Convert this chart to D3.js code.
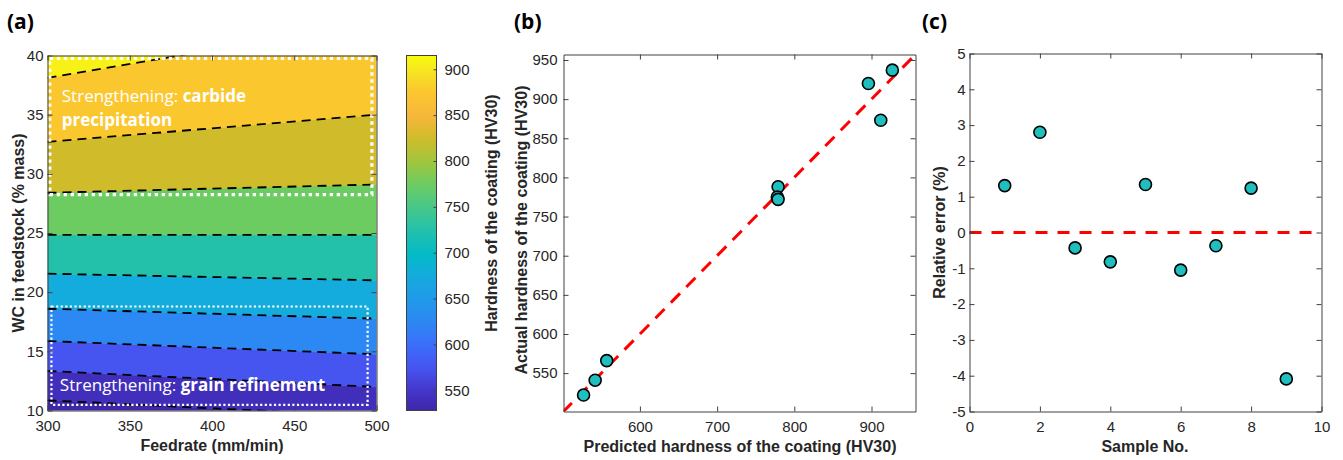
<!DOCTYPE html>
<html>
<head>
<meta charset="utf-8">
<script src="https://cdn.jsdelivr.net/npm/d3@7"></script>
<style>
body { margin: 0; background: #fff; }
svg { display: block; }
.tick text { font-family: "Liberation Sans", Arial, sans-serif; font-size: 15px; fill: #262626; }
.tick line, .domain { stroke: #404040; }
.label { font-family: "Liberation Sans", Arial, sans-serif; font-size: 16px; font-weight: bold; fill: #262626; }
.panel { font-family: "Open Sans", sans-serif; font-size: 21px; font-weight: bold; fill: #000; }
.note { font-family: "Open Sans", sans-serif; font-size: 17px; fill: #fff; }
</style>
</head>
<body>
<div id="chart"></div>
<script>
var width = 1343
var height = 460

// Panel (a): contour of hardness over feedrate / WC content
var feedTicks = [300, 350, 400, 450, 500]
var wcTicks = [10, 15, 20, 25, 30, 35, 40]
var cbarTicks = [550, 600, 650, 700, 750, 800, 850, 900]
var hardRange = [528, 915]
// contour lines: level and WC (% mass) where it crosses feedrate 300 and 500
var contourLevels = [530, 550, 600, 650, 700, 750, 800, 850, 900]
var wcAt300 = [10.86, 13.34, 15.87, 18.6, 21.56, 24.85, 28.4, 32.7, 38.1]
var wcAt500 = [9.51, 11.99, 14.75, 17.76, 21.0, 24.85, 29.1, 35.0, 42.85]

// parula colormap
var parulaT = [0, 0.06, 0.12, 0.19, 0.25, 0.32, 0.38, 0.44, 0.51, 0.57, 0.64, 0.70, 0.77, 0.83, 0.90, 0.95, 1]
var parulaC = ["#3e26a8", "#4438cd", "#4654f0", "#3a70fa", "#2c88f2", "#209be8", "#14acdc", "#04bbc6",
               "#24c1aa", "#46c78a", "#6ecc60", "#a0c63e", "#d2bc2a", "#f8b63c", "#fbc82e", "#f6e224", "#f9fb0e"]

// Panel (b): predicted vs actual hardness
var predicted = [527, 542, 557, 779, 778, 779, 896, 927, 912]
var actual = [522, 541, 566, 788, 775, 772, 920, 937, 873]
var bTicksX = [600, 700, 800, 900]
var bTicksY = [550, 600, 650, 700, 750, 800, 850, 900, 950]

// Panel (c): relative error by sample
var sampleNo = [1, 2, 3, 4, 5, 6, 7, 8, 9]
var relError = [1.31, 2.80, -0.43, -0.82, 1.34, -1.05, -0.37, 1.24, -4.09]
var cTicksX = [0, 2, 4, 6, 8, 10]
var cTicksY = [-5, -4, -3, -2, -1, 0, 1, 2, 3, 4, 5]

var svg = d3.select("#chart")
    .append("svg")
    .attr("width", width)
    .attr("height", height)
    .style("background-color", "white")

var parula = d3.scaleLinear().domain(parulaT).range(parulaC).interpolate(d3.interpolateRgb)
var hardToT = d3.scaleLinear().domain(hardRange).range([0, 1]).clamp(true)
function hardColor(v) { return parula(hardToT(v)) }

var fmt = function(d) { return String(d) }

// box with inward ticks on all four sides (matlab style)
function box(g, x, y, xt, yt, padX, padY) {
    var yb = y.range()[0], yt0 = y.range()[1]
    var xl = x.range()[0], xr = x.range()[1]
    g.append("g").attr("transform", "translate(0," + yb + ")")
        .call(d3.axisBottom(x).tickValues(xt).tickSizeInner(-5).tickSizeOuter(0).tickPadding(padX).tickFormat(fmt))
    g.append("g").attr("transform", "translate(0," + yt0 + ")")
        .call(d3.axisTop(x).tickValues(xt).tickSizeInner(-5).tickSizeOuter(0).tickFormat(""))
    g.append("g").attr("transform", "translate(" + xl + ",0)")
        .call(d3.axisLeft(y).tickValues(yt).tickSizeInner(-5).tickSizeOuter(0).tickPadding(padY).tickFormat(fmt))
    g.append("g").attr("transform", "translate(" + xr + ",0)")
        .call(d3.axisRight(y).tickValues(yt).tickSizeInner(-5).tickSizeOuter(0).tickFormat(""))
}

// ---------------- panel (a)
var xa = d3.scaleLinear().domain([300, 500]).range([47.5, 376.5])
var ya = d3.scaleLinear().domain([10, 40]).range([410.5, 55.5])

var defs = svg.append("defs")
defs.append("clipPath").attr("id", "clipA")
    .append("rect")
    .attr("x", xa(300)).attr("y", ya(40))
    .attr("width", xa(500) - xa(300)).attr("height", ya(10) - ya(40))

var ga = svg.append("g")
var bands = ga.append("g").attr("clip-path", "url(#clipA)")

var n = contourLevels.length
for (var i = -1; i < n; i++) {
    var lo300 = i >= 0 ? wcAt300[i] : 0
    var lo500 = i >= 0 ? wcAt500[i] : 0
    var up300 = i + 1 < n ? wcAt300[i + 1] : 50
    var up500 = i + 1 < n ? wcAt500[i + 1] : 50
    var loLev = i >= 0 ? contourLevels[i] : hardRange[0]
    var upLev = i + 1 < n ? contourLevels[i + 1] : hardRange[1]
    var poly = [[300, lo300], [500, lo500], [500, up500], [300, up300]]
    bands.append("path")
        .attr("d", d3.line().x(function(d) { return xa(d[0]) }).y(function(d) { return ya(d[1]) })(poly) + "Z")
        .attr("fill", hardColor((loLev + upLev) / 2))
        .attr("stroke", hardColor((loLev + upLev) / 2))
        .attr("stroke-width", 0.6)
}

bands.selectAll("path.cline")
    .data(contourLevels)
    .enter()
    .append("path")
    .attr("class", "cline")
    .attr("d", function(d, i) {
        return d3.line()([[xa(300), ya(wcAt300[i])], [xa(500), ya(wcAt500[i])]])
    })
    .attr("fill", "none")
    .attr("stroke", "#000")
    .attr("stroke-width", 1.8)
    .attr("stroke-dasharray", "9,6")

// white dotted regions
ga.append("rect")
    .attr("x", xa(301.4)).attr("y", ya(39.75))
    .attr("width", xa(497.2) - xa(301.4)).attr("height", ya(28.25) - ya(39.75))
    .attr("fill", "none").attr("stroke", "#fff")
    .attr("stroke-width", 3.2).attr("stroke-dasharray", "3.4,3.6")
ga.append("rect")
    .attr("x", xa(302.4)).attr("y", ya(18.79))
    .attr("width", xa(494.6) - xa(302.4)).attr("height", ya(10.48) - ya(18.79))
    .attr("fill", "none").attr("stroke", "#fff")
    .attr("stroke-width", 2.2).attr("stroke-dasharray", "2.2,2.4")

var t1 = ga.append("text").attr("class", "note").attr("x", xa(308.7)).attr("y", ya(36.05))
t1.append("tspan").text("Strengthening: ")
t1.append("tspan").attr("font-weight", "bold").text("carbide")
ga.append("text").attr("class", "note").attr("font-weight", "bold")
    .attr("x", xa(308.7)).attr("y", ya(34.04)).text("precipitation")
var t2 = ga.append("text").attr("class", "note").attr("x", xa(307.5)).attr("y", ya(11.69))
t2.append("tspan").text("Strengthening: ")
t2.append("tspan").attr("font-weight", "bold").text("grain refinement")

box(ga, xa, ya, feedTicks, wcTicks, 10, 4)

ga.append("text").attr("class", "label").attr("text-anchor", "middle")
    .attr("x", (xa(300) + xa(500)) / 2).attr("y", 451).text("Feedrate (mm/min)")
ga.append("text").attr("class", "label").attr("text-anchor", "middle")
    .attr("transform", "translate(24," + (ya(25)) + ") rotate(-90)")
    .text("WC in feedstock (% mass)")

// colorbar
var yc = d3.scaleLinear().domain(hardRange).range([410.5, 55.5])
var grad = defs.append("linearGradient").attr("id", "cbar")
    .attr("x1", 0).attr("y1", 1).attr("x2", 0).attr("y2", 0)
d3.range(0, 1.0001, 0.02).forEach(function(t) {
    grad.append("stop").attr("offset", t).attr("stop-color", parula(t))
})
var gc = svg.append("g")
gc.append("rect")
    .attr("x", 406.5).attr("y", yc(hardRange[1]))
    .attr("width", 30).attr("height", yc(hardRange[0]) - yc(hardRange[1]))
    .attr("fill", "url(#cbar)")
    .attr("stroke", "#404040").attr("stroke-width", 1)
gc.append("g").attr("transform", "translate(436.5,0)")
    .call(d3.axisRight(yc).tickValues(cbarTicks).tickSizeInner(-3).tickSizeOuter(0).tickPadding(8).tickFormat(fmt))
    .select(".domain").remove()
gc.append("text").attr("class", "label").attr("text-anchor", "middle")
    .attr("transform", "translate(497,213) rotate(-90)")
    .text("Hardness of the coating (HV30)")

// ---------------- panel (b)
var xb = d3.scaleLinear().domain([501, 957]).range([563.5, 915.5])
var yb = d3.scaleLinear().domain([501, 957]).range([411.5, 54.5])
var gb = svg.append("g")
gb.append("rect").attr("x", 563.5).attr("y", 54.5).attr("width", 352).attr("height", 357).attr("fill", "#fff")
defs.append("clipPath").attr("id", "clipB")
    .append("rect").attr("x", 563.5).attr("y", 54.5).attr("width", 352).attr("height", 357)

gb.append("path")
    .attr("clip-path", "url(#clipB)")
    .attr("d", d3.line()([[xb(480), yb(480)], [xb(980), yb(980)]]))
    .attr("stroke", "#ff0000").attr("stroke-width", 3)
    .attr("stroke-dasharray", "13,9").attr("fill", "none")

box(gb, xb, yb, bTicksX, bTicksY, 10, 6)

gb.append("g").selectAll("circle")
    .data(predicted)
    .enter()
    .append("circle")
    .attr("cx", function(d) { return xb(d) })
    .attr("cy", function(d, i) { return yb(actual[i]) })
    .attr("r", 6)
    .attr("fill", "#1fbfbf")
    .attr("stroke", "#000")
    .attr("stroke-width", 1.6)

gb.append("text").attr("class", "label").attr("text-anchor", "middle")
    .attr("x", 740).attr("y", 452).text("Predicted hardness of the coating (HV30)")
gb.append("text").attr("class", "label").attr("text-anchor", "middle")
    .attr("transform", "translate(527,230) rotate(-90)")
    .text("Actual hardness of the coating (HV30)")

// ---------------- panel (c)
var xcs = d3.scaleLinear().domain([0, 10]).range([969.5, 1321.5])
var ycs = d3.scaleLinear().domain([-5, 5]).range([411.5, 53.5])
var gcc = svg.append("g")

gcc.append("path")
    .attr("d", d3.line()([[xcs(0), ycs(0)], [xcs(10), ycs(0)]]))
    .attr("stroke", "#ff0000").attr("stroke-width", 3)
    .attr("stroke-dasharray", "12,10").attr("fill", "none")

box(gcc, xcs, ycs, cTicksX, cTicksY, 10, 4)

gcc.append("g").selectAll("circle")
    .data(sampleNo)
    .enter()
    .append("circle")
    .attr("cx", function(d) { return xcs(d) })
    .attr("cy", function(d, i) { return ycs(relError[i]) })
    .attr("r", 6)
    .attr("fill", "#1fbfbf")
    .attr("stroke", "#000")
    .attr("stroke-width", 1.6)

gcc.append("text").attr("class", "label").attr("text-anchor", "middle")
    .attr("x", 1145).attr("y", 452).text("Sample No.")
gcc.append("text").attr("class", "label").attr("text-anchor", "middle")
    .attr("transform", "translate(945," + ycs(0) + ") rotate(-90)")
    .text("Relative error (%)")

// panel letters
svg.append("text").attr("class", "panel").attr("x", 7).attr("y", 29).text("(a)")
svg.append("text").attr("class", "panel").attr("x", 514).attr("y", 29).text("(b)")
svg.append("text").attr("class", "panel").attr("x", 922).attr("y", 29).text("(c)")
</script>
</body>
</html>
